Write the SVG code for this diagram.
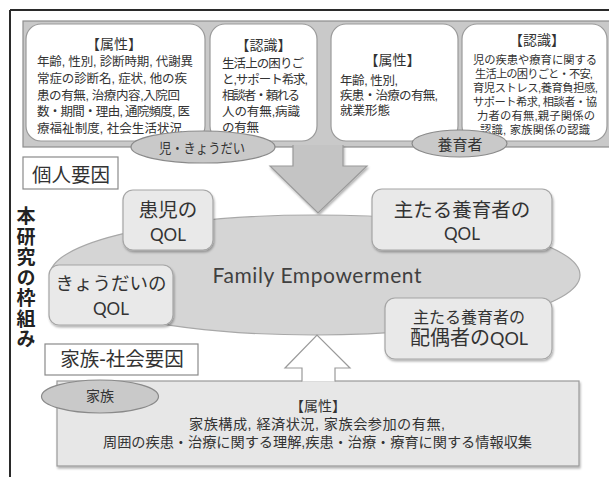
<svg xmlns="http://www.w3.org/2000/svg" width="609" height="477" viewBox="0 0 609 477">
<defs>
<filter id="sh" x="-10%" y="-10%" width="125%" height="130%">
<feDropShadow dx="1" dy="2" stdDeviation="1.2" flood-color="#000" flood-opacity="0.3"/>
</filter>
<style>
.jp{font-family:"Liberation Sans","Noto Sans CJK JP",sans-serif;fill:#333}
.lat{font-family:Lato,"Noto Sans CJK JP",sans-serif;fill:#333}
.wbox{fill:#fff;stroke:#9a9a9a;stroke-width:1.2}
.qbox{fill:#e9e9e9;stroke:#a6a6a6;stroke-width:1.2}
.lab{fill:#c9c9c9;stroke:#8a8a8a;stroke-width:1.2}
.t12{font-size:12.5px}
.t11{font-size:11.3px}
.ttl{font-size:14px}
.mid{text-anchor:middle}
</style>
</defs>
<rect width="609" height="477" fill="#fff"/>
<!-- frame -->
<path d="M10,10 H609 M10,10 V477" fill="none" stroke="#2a2a2a" stroke-width="2"/>

<!-- top panel -->
<g id="top-panel">
<rect x="23" y="21" width="590" height="126" fill="#c9c9c9" stroke="#8e8e8e" stroke-width="1.2"/>
</g>

<g id="box-child-attr">
<rect class="wbox" x="26" y="24" width="179" height="117" rx="15"/>
<text class="jp ttl mid" x="114" y="49">【属性】</text>
<text class="jp t12"><tspan x="37" y="66.2" textLength="156">年齢, 性別, 診断時期, 代謝異</tspan><tspan x="37" y="82.9" textLength="150">常症の診断名, 症状, 他の疾</tspan><tspan x="37" y="99.5" textLength="143">患の有無, 治療内容,入院回</tspan><tspan x="37" y="116.2" textLength="153">数・期間・理由, 通院頻度, 医</tspan><tspan x="37" y="132.8" textLength="145">療福祉制度, 社会生活状況</tspan></text>
</g>

<g id="box-child-recog">
<rect class="wbox" x="210" y="24" width="107" height="117" rx="15"/>
<text class="jp ttl mid" x="263.5" y="50">【認識】</text>
<text class="jp t12"><tspan x="222" y="68" textLength="82">生活上の困りご</tspan><tspan x="222" y="84" textLength="86">と,サポート希求,</tspan><tspan x="222" y="100" textLength="78">相談者・頼れる</tspan><tspan x="222" y="116" textLength="78">人の有無,病識</tspan><tspan x="222" y="132" textLength="37">の有無</tspan></text>
</g>

<g id="box-parent-attr">
<rect class="wbox" x="331" y="24" width="127" height="117" rx="15"/>
<text class="jp ttl mid" x="392.5" y="65">【属性】</text>
<text class="jp t12"><tspan x="340" y="84.5" textLength="58">年齢, 性別,</tspan><tspan x="340" y="99.5" textLength="98">疾患・治療の有無,</tspan><tspan x="340" y="114.5" textLength="50">就業形態</tspan></text>
</g>

<g id="box-parent-recog">
<rect class="wbox" x="462" y="24" width="145" height="117" rx="15"/>
<text class="jp ttl mid" x="537" y="45">【認識】</text>
<text class="jp t11 mid"><tspan x="535" y="64" textLength="124">児の疾患や療育に関する</tspan><tspan x="534" y="77.9" textLength="118">生活上の困りごと・不安,</tspan><tspan x="535.5" y="91.8" textLength="125">育児ストレス,養育負担感,</tspan><tspan x="535" y="105.7" textLength="124">サポート希求, 相談者・協</tspan><tspan x="536" y="119.6" textLength="118">力者の有無,親子関係の</tspan><tspan x="535" y="133.5" textLength="110">認識, 家族関係の認識</tspan></text>
</g>

<g id="label-child">
<ellipse class="lab" cx="203" cy="147" rx="72" ry="16"/>
<text class="jp mid" x="202" y="152.5" font-size="13.5" textLength="86" lengthAdjust="spacingAndGlyphs">児・きょうだい</text>
</g>
<g id="label-parent">
<ellipse class="lab" cx="459.5" cy="143.5" rx="47.5" ry="13.5"/>
<text class="jp mid" x="460" y="149.5" font-size="15">養育者</text>
</g>

<g id="connectors">
<path d="M293,145 V166 H270 L318,213 L367,166 H343 V145" fill="#c4c4c4" stroke="#9a9a9a" stroke-width="1.2" filter="url(#sh)"/>
</g>

<g id="individual-label">
<rect x="23" y="157" width="95" height="32" fill="#fff" stroke="#8a8a8a" stroke-width="1.2"/>
<text class="jp mid" x="71" y="182" font-size="19.5">個人要因</text>
</g>

<g id="framework-title">
<text class="jp" x="24" y="206.5" font-size="19" font-weight="bold" writing-mode="vertical-rl" letter-spacing="1.5" style="fill:#222">本研究の枠組み</text>
</g>

<g id="family-empowerment">
<ellipse cx="315" cy="275" rx="265" ry="60" fill="#d5d5d5" stroke="#a8a8a8" stroke-width="1.2"/>
<text class="lat mid" x="317" y="283" font-size="21" textLength="209" style="fill:#404040">Family Empowerment</text>
</g>

<g id="qol-child">
<rect class="qbox" x="123" y="190" width="90" height="60" rx="10" filter="url(#sh)"/>
<text class="jp mid" x="168" y="217" font-size="19.5">患児の</text>
<text class="lat mid" x="168" y="241" font-size="17">QOL</text>
</g>

<g id="qol-parent">
<rect class="qbox" x="372" y="189" width="180" height="61" rx="10" filter="url(#sh)"/>
<text class="jp mid" x="462" y="217" font-size="19.5">主たる養育者の</text>
<text class="lat mid" x="462" y="240" font-size="17">QOL</text>
</g>

<g id="qol-sibling">
<rect class="qbox" x="49" y="265" width="124" height="60" rx="10" filter="url(#sh)"/>
<text class="jp mid" x="111" y="290" font-size="18.5">きょうだいの</text>
<text class="lat mid" x="111" y="315" font-size="17">QOL</text>
</g>

<g id="qol-spouse">
<rect class="qbox" x="385" y="298" width="167" height="61" rx="10" filter="url(#sh)"/>
<text class="jp mid" x="469" y="323" font-size="16">主たる養育者の</text>
<text class="jp mid" x="469" y="345" font-size="20">配偶者の<tspan style="font-family:Lato,sans-serif" font-size="18">QOL</tspan></text>
</g>

<g id="family-social-label">
<rect x="45" y="344" width="153" height="31" fill="#fff" stroke="#8a8a8a" stroke-width="1.2"/>
<text class="jp mid" x="122" y="366" font-size="19.5">家族-社会要因</text>
</g>

<g id="family-box">
<rect x="57" y="381" width="522" height="85" fill="#e7e7e7" stroke="#9a9a9a" stroke-width="1.2" filter="url(#sh)"/>
<text class="jp mid"><tspan x="318" y="411" font-size="14">【属性】</tspan><tspan x="317" y="429" font-size="14.2" textLength="256">家族構成, 経済状況, 家族会参加の有無,</tspan><tspan x="317.5" y="447" font-size="14.2" textLength="429">周囲の疾患・治療に関する理解,疾患・治療・療育に関する情報収集</tspan></text>
</g>

<g id="connectors-up">
<path d="M302,381.6 V368 H285 L317,335 L350,368 H335 V381.6" fill="#fff" stroke="#9a9a9a" stroke-width="1.2"/>
</g>

<g id="label-family">
<ellipse class="lab" cx="100" cy="396.5" rx="58.5" ry="16.5"/>
<text class="jp mid" x="100" y="400.5" font-size="14">家族</text>
</g>
</svg>
